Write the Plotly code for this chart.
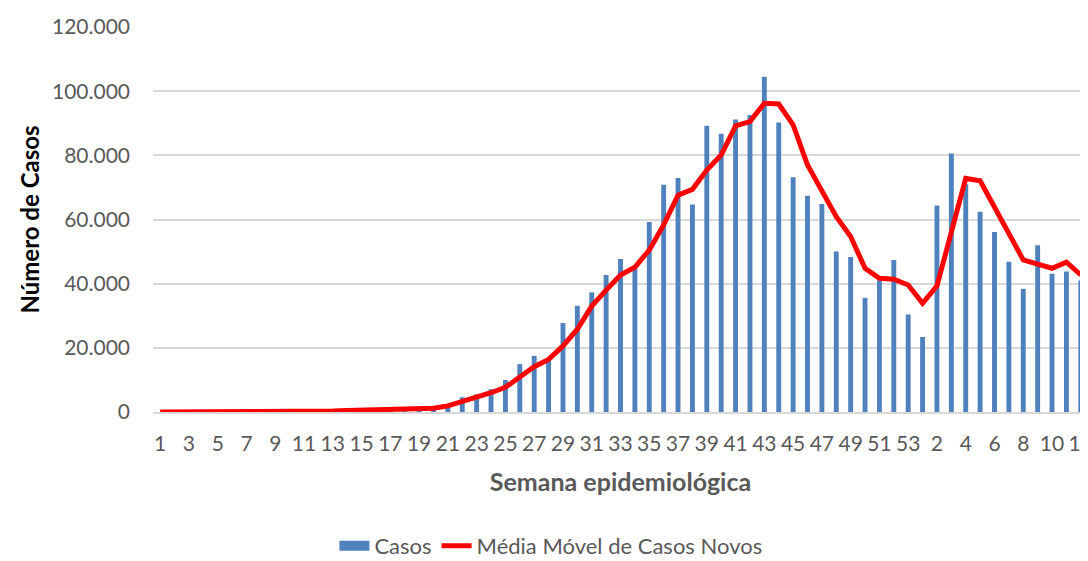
import plotly.graph_objects as go

# semanas epidemiológicas: 1-53 (2020) e 1-12 (2021)
semanas = [str(s) for s in range(1, 54)] + [str(s) for s in range(1, 13)]

casos = [
    0, 0, 0, 0, 0, 0, 0, 0, 5, 30,
    150, 350, 600, 800, 900, 900, 1000, 1100, 1200, 1400,
    1600, 4600, 5500, 7100, 10000, 14900, 17500, 16200, 27700, 33100,
    37300, 42700, 47700, 45300, 59200, 70800, 72900, 64700, 89200, 86700,
    91200, 92600, 104500, 90200, 73200, 67400, 64800, 50000, 48300, 35600,
    41100, 47400, 30400,
    23400, 64400, 80600, 71000, 62400, 56100, 46800, 38400, 52000, 43100,
    43800, 41000,
]

media_movel = [
    0, 0, 0, 0, 0, 0, 0, 0, 0, 20,
    80, 180, 300, 450, 600, 700, 800, 900, 1000, 1200,
    1900, 3200, 4800, 6000, 7700, 10800, 14100, 16400, 20600, 25800,
    33000, 38000, 42700, 45100, 50500, 58300, 67600, 69400, 75400, 80100,
    89200, 90500, 96200, 96000, 89500, 77000, 68700, 60900, 54700, 44800,
    41700, 41400, 39600,
    33900, 39300, 55700, 72800, 72100, 64000, 55700, 47400, 46100, 44800,
    46700, 42700,
]

x_idx = list(range(len(semanas)))
grey = "#595959"
blue = "#4F81BD"
font_family = "Lato, 'Open Sans', sans-serif"

fig = go.Figure()

fig.add_trace(go.Bar(
    x=x_idx,
    y=casos,
    name="Casos",
    marker=dict(color=blue, line=dict(width=0)),
    showlegend=False,
))

# legend entry with a wide rectangular patch, like the original
fig.add_trace(go.Scatter(
    x=[None],
    y=[None],
    name="Casos",
    mode="lines",
    line=dict(color=blue, width=14),
))

fig.add_trace(go.Scatter(
    x=x_idx,
    y=media_movel,
    name="Média Móvel de Casos Novos",
    mode="lines",
    line=dict(color="#FF0000", width=5),
))

fig.update_layout(
    width=1088,
    height=561,
    margin=dict(l=145, r=8, t=19, b=157),
    paper_bgcolor="white",
    plot_bgcolor="white",
    separators=",.",
    bargap=0.66,
    font=dict(family=font_family, size=21, color=grey),
    showlegend=True,
    legend=dict(
        orientation="h",
        xref="container", yref="container",
        x=0.499, xanchor="center",
        y=0.041, yanchor="middle",
        font=dict(size=22, color=grey),
        traceorder="normal",
    ),
)

fig.update_xaxes(
    range=[-0.5, len(semanas) - 0.5],
    tickmode="array",
    tickvals=x_idx[::2],
    ticktext=semanas[::2],
    showgrid=False,
    showline=True,
    linecolor="#D9D9D9",
    linewidth=1.5,
    ticks="",
    ticklabelstandoff=12,
    tickfont=dict(size=21, color=grey),
    automargin=False,
    title=dict(text="<b>Semana epidemiológica</b>", font=dict(size=25, color=grey), standoff=20),
)

fig.update_yaxes(
    range=[0, 120000],
    tickvals=[0, 20000, 40000, 60000, 80000, 100000, 120000],
    tickformat=",d",
    showgrid=True,
    gridcolor="#D9D9D9",
    gridwidth=1.5,
    zeroline=False,
    ticks="",
    ticklabelstandoff=22,
    tickfont=dict(size=21, color=grey),
    automargin=False,
    title=dict(text="<b>Número de Casos</b>", font=dict(size=24, color="black"), standoff=5),
)

fig.write_html("out.html")
